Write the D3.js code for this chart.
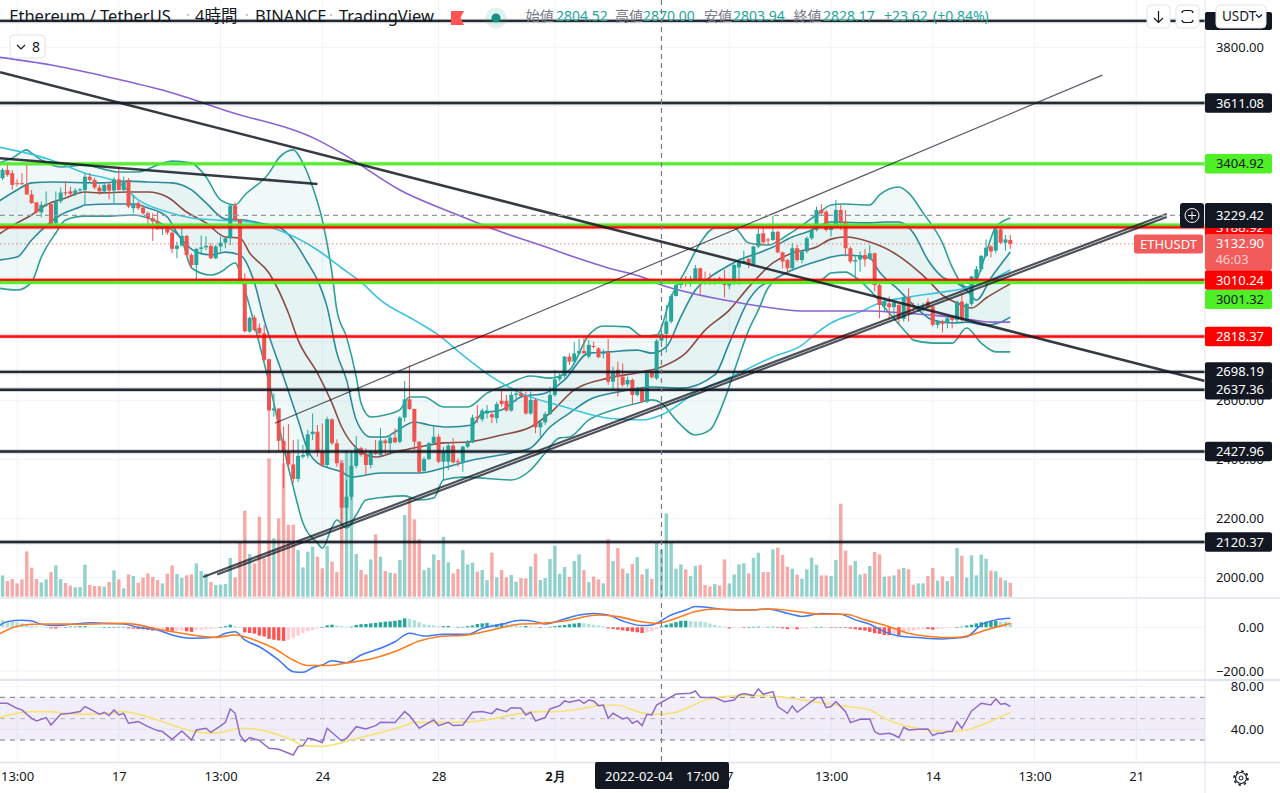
<!DOCTYPE html>
<html>
<head>
<meta charset="utf-8">
<script src="https://d3js.org/d3.v7.min.js"></script>
<style>
    html, body { margin: 0; padding: 0; background: #fff; overflow: hidden; }
    text { font-family: "Noto Sans", "Noto Sans CJK JP", sans-serif; fill: #131722; }
    .axis path, .axis line { display: none; }
    .axis text { font-size: 13px; font-family: "Noto Sans", sans-serif; fill: #131722; }
</style>
</head>
<body>
<script>
    // 4h candles, bar 0 is at the left edge of the picture
    var opens = [3339,3356,3384,3373,3339,3339,3333,3301,3274,3240,
        3263,3268,3203,3277,3308,3311,3303,3314,3316,3361,
        3350,3324,3311,3335,3314,3352,3316,3350,3254,3271,
        3256,3237,3220,3209,3183,3186,3171,3116,3127,3160,
        3095,3061,3116,3121,3126,3084,3124,3137,3152,3263,
        3214,2999,2835,2882,2848,2829,2741,2567,2574,2464,
        2427,2384,2335,2410,2414,2487,2495,2427,2382,2537,
        2456,2388,2237,2274,2379,2439,2416,2382,2425,2416,
        2465,2456,2475,2461,2543,2605,2572,2461,2362,2402,
        2456,2478,2393,2393,2448,2395,2393,2444,2459,2546,
        2537,2557,2554,2541,2600,2600,2567,2620,2625,2616,
        2557,2603,2510,2527,2555,2620,2673,2684,2750,2733,
        2761,2769,2750,2786,2778,2759,2765,2665,2705,2682,
        2656,2671,2620,2642,2597,2697,2676,2804,2827,2869,
        2956,2993,3008,2999,3013,3050,3008,3010,3006,3016,
        3010,2991,3001,3053,3069,3082,3065,3124,3169,3148,
        3146,3174,3104,3078,3050,3118,3078,3107,3152,3180,
        3248,3242,3180,3191,3248,3208,3118,3073,3080,3095,
        3084,3101,2993,2922,2931,2918,2925,2878,2952,2922,
        2914,2920,2937,2920,2858,2869,2865,2884,2875,2937,
        2880,2929,3010,3047,3092,3124,3110,3182,3137,3146]
    var closes = [3373,3384,3367,3333,3337,3336,3301,3271,3240,3265,
        3268,3197,3277,3307,3305,3303,3314,3318,3361,3350,
        3324,3311,3333,3314,3352,3316,3347,3260,3269,3254,
        3237,3220,3209,3183,3189,3171,3116,3127,3160,3095,
        3061,3116,3121,3126,3084,3124,3137,3152,3263,3214,
        2999,2836,2882,2840,2829,2739,2567,2574,2464,2427,
        2384,2335,2413,2416,2486,2495,2427,2382,2538,2456,
        2388,2237,2274,2379,2439,2416,2382,2425,2419,2465,
        2456,2475,2459,2543,2605,2572,2461,2359,2402,2456,
        2478,2393,2427,2448,2391,2391,2444,2459,2543,2541,
        2567,2567,2544,2589,2589,2567,2620,2625,2616,2557,
        2603,2510,2527,2555,2620,2673,2684,2750,2733,2761,
        2769,2761,2790,2784,2748,2764,2665,2699,2682,2654,
        2671,2620,2642,2597,2693,2680,2804,2827,2869,2956,
        2993,3010,2999,3014,3050,3008,2999,3006,3010,3007,
        2993,3001,3061,3069,3075,3067,3124,3167,3138,3144,
        3174,3104,3073,3050,3118,3078,3107,3152,3180,3248,
        3237,3180,3191,3248,3208,3118,3073,3078,3095,3080,
        3101,2993,2925,2937,2918,2933,2880,2952,2897,2918,
        2922,2925,2918,2858,2869,2861,2880,2875,2937,2875,
        2929,3022,3047,3092,3120,3107,3182,3137,3148,3133]
    var highs = [3378,3390,3409,3384,3352,3373,3407,3316,3274,3277,
        3311,3269,3311,3324,3344,3328,3322,3322,3373,3373,
        3358,3333,3339,3341,3359,3393,3361,3356,3299,3277,
        3265,3243,3237,3243,3197,3197,3175,3141,3192,3163,
        3101,3118,3161,3158,3135,3129,3158,3154,3268,3274,
        3217,3033,2886,2891,2863,2857,2743,2625,2574,2512,
        2521,2467,2469,2450,2501,2557,2518,2523,2546,2541,
        2469,2393,2331,2427,2480,2444,2439,2433,2467,2507,
        2470,2484,2507,2548,2667,2720,2574,2463,2410,2461,
        2518,2487,2444,2456,2473,2405,2448,2467,2552,2586,
        2574,2586,2563,2597,2637,2620,2631,2642,2642,2631,
        2631,2608,2535,2563,2648,2705,2693,2752,2761,2799,
        2810,2812,2807,2801,2782,2775,2810,2716,2733,2727,
        2682,2676,2648,2648,2699,2705,2809,2841,2925,2963,
        2999,3016,3024,3024,3061,3053,3039,3033,3016,3022,
        3044,3005,3065,3075,3110,3084,3126,3186,3186,3154,
        3228,3178,3107,3082,3135,3129,3112,3158,3182,3259,
        3268,3248,3197,3282,3265,3248,3124,3095,3107,3115,
        3129,3103,2997,2951,2954,2942,2929,2954,2982,2933,
        2931,2933,2948,2922,2875,2875,2886,2888,2940,2965,
        2933,3024,3058,3095,3148,3129,3189,3186,3163,3163]
    var lows = [3327,3350,3361,3316,3328,3333,3299,3269,3237,3223,
        3260,3189,3189,3271,3296,3294,3296,3310,3265,3344,
        3318,3299,3305,3284,3271,3314,3311,3254,3237,3248,
        3231,3186,3143,3180,3163,3163,3101,3084,3124,3090,
        3050,2999,3095,3112,3081,3081,3107,3118,3129,3209,
        2997,2832,2831,2835,2824,2733,2422,2546,2427,2303,
        2376,2320,2325,2404,2405,2467,2410,2376,2376,2450,
        2376,2184,2173,2263,2371,2410,2348,2371,2416,2410,
        2414,2416,2456,2456,2529,2569,2433,2354,2357,2399,
        2450,2388,2331,2365,2388,2376,2359,2439,2456,2524,
        2529,2540,2524,2524,2580,2563,2563,2597,2614,2552,
        2552,2490,2478,2518,2552,2614,2665,2676,2722,2727,
        2756,2761,2744,2778,2744,2744,2654,2637,2614,2648,
        2648,2586,2614,2592,2592,2676,2671,2795,2764,2863,
        2954,2982,2988,2988,3005,2959,2993,2993,2993,2999,
        2951,2979,2993,2993,3065,3050,3058,3118,3129,3129,
        3141,3101,3050,3033,3047,3073,3067,3101,3146,3175,
        3231,3175,3158,3186,3180,3090,3067,3005,3039,3056,
        3078,2971,2880,2903,2880,2886,2858,2869,2869,2903,
        2903,2903,2914,2852,2846,2832,2846,2846,2863,2869,
        2869,2922,3005,3039,3087,3087,3101,3133,3110,3116]
    var volumes = [170,64,47,53,40,52,136,87,53,43,
        52,74,94,53,41,33,28,29,96,35,
        32,32,30,44,79,52,25,67,62,42,
        57,70,59,50,40,69,94,68,56,64,
        67,100,77,69,44,35,36,38,116,58,
        165,258,128,100,240,115,415,175,235,400,
        215,216,140,88,135,150,120,85,152,105,
        74,410,440,430,128,80,67,112,187,120,
        77,72,70,110,245,295,232,172,80,87,
        127,110,180,103,70,83,140,97,102,75,
        80,50,132,58,80,58,65,45,56,55,
        91,129,50,56,113,153,69,89,59,107,
        127,80,44,60,52,40,172,107,146,84,
        70,98,119,67,84,54,162,142,250,164,
        84,97,82,62,92,95,35,31,38,34,
        112,40,67,97,100,70,117,132,74,74,
        142,147,125,90,84,66,54,82,117,96,
        64,64,62,110,279,138,94,107,66,69,
        92,134,127,60,61,64,82,86,82,36,
        40,40,62,86,48,61,47,61,146,123,
        57,124,64,126,114,78,76,57,49,42]
    var macdHist = [38,33,30,27,23,18,12,8,5,3,
        0,-5,-6,-3,0,3,3,5,5,3,
        2,0,0,0,2,2,2,-5,-6,-8,
        -9,-12,-15,-14,-11,-15,-21,-15,-14,-18,
        -21,-12,-11,-9,-8,-5,0,5,12,5,
        0,-23,-26,-29,-38,-42,-53,-57,-60,-62,
        -57,-48,-38,-27,-18,-12,-5,0,9,12,
        8,5,2,3,11,14,15,18,20,23,
        26,27,30,33,41,39,33,23,14,11,
        9,5,5,6,2,2,2,5,8,15,
        18,20,14,14,18,15,12,9,6,6,
        5,2,-3,-2,2,5,8,11,14,17,
        20,18,15,12,9,5,-5,-8,-11,-14,
        -17,-20,-23,-26,-23,-18,-9,5,12,18,
        24,30,30,29,27,26,23,17,11,6,
        3,-5,-3,-2,-2,0,2,3,2,2,
        3,-2,-5,-8,-6,-9,-6,-5,-2,0,
        2,0,-2,-2,0,-2,-6,-9,-12,-15,
        -21,-27,-30,-35,-36,-33,-36,-26,-20,-15,
        -11,-8,-8,-11,-8,-6,-3,-2,0,3,
        8,12,18,23,26,29,30,27,26,21]

    // indicator lines read at chosen bars: [bar, value]
    var bbOuterUpper = [[0,3407],[3,3424],[6,3452],[7,3441],[9,3418],[13,3394],[18,3401],[21,3390],[25,3377],[29,3377],[33,3401],[36,3414],[40,3407],[43,3360],[46,3282],[49,3265],[51,3299],[56,3373],[58,3424],[61,3452],[63,3407],[65,3326],[67,3214],[69,3034],[70,2908],[72,2817],[74,2681],[75,2592],[77,2545],[80,2552],[83,2569],[85,2613],[88,2613],[92,2579],[97,2579],[101,2626],[105,2654],[110,2684],[114,2677],[118,2704],[122,2823],[125,2854],[130,2851],[133,2820],[136,2823],[139,2952],[142,3044],[145,3136],[148,3187],[152,3187],[155,3136],[159,3129],[163,3163],[169,3231],[172,3265],[174,3268],[180,3265],[182,3299],[186,3326],[188,3306],[191,3238],[195,3136],[197,3054],[200,2986],[202,3010],[204,3102],[206,3190],[209,3221]]
    var bbOuterLower = [[0,2983],[4,2976],[7,3003],[9,3088],[12,3170],[14,3214],[18,3227],[23,3227],[28,3231],[31,3221],[35,3190],[38,3146],[40,3051],[44,3027],[46,3037],[49,3068],[51,2976],[55,2728],[57,2592],[59,2443],[61,2307],[63,2185],[66,2117],[67,2100],[69,2171],[70,2195],[72,2168],[74,2212],[76,2263],[80,2273],[84,2277],[87,2263],[90,2270],[92,2331],[96,2341],[106,2331],[110,2365],[113,2423],[116,2474],[118,2477],[122,2535],[127,2569],[132,2592],[135,2603],[137,2592],[140,2535],[144,2484],[147,2501],[150,2603],[153,2749],[155,2840],[157,2908],[159,2983],[160,3000],[167,3000],[170,3010],[172,3034],[175,3037],[177,3020],[180,2976],[184,2898],[188,2823],[189,2806],[193,2796],[197,2796],[200,2847],[203,2796],[206,2766],[209,2766]]
    var bbInnerUpper = [[0,3275],[4,3316],[7,3340],[11,3343],[21,3340],[27,3346],[31,3343],[36,3340],[40,3316],[43,3272],[47,3217],[51,3214],[54,3204],[58,3190],[61,3146],[64,3068],[66,3010],[68,2918],[70,2762],[72,2671],[74,2535],[77,2477],[80,2477],[82,2494],[86,2528],[89,2518],[93,2511],[98,2518],[100,2558],[104,2569],[108,2613],[113,2626],[117,2671],[122,2762],[126,2766],[132,2772],[135,2762],[138,2783],[141,2885],[144,2976],[147,3020],[150,3051],[153,3078],[157,3102],[160,3122],[164,3156],[167,3173],[172,3207],[180,3204],[183,3207],[186,3207],[189,3170],[192,3078],[195,3020],[198,3000],[200,2976],[202,2942],[205,3017],[209,3105]]
    var bbInnerLower = [[0,3078],[4,3088],[7,3146],[13,3231],[17,3258],[18,3265],[24,3268],[28,3268],[31,3255],[35,3224],[37,3170],[41,3105],[44,3095],[47,3105],[50,3095],[53,3000],[55,2874],[59,2681],[62,2535],[64,2433],[66,2389],[71,2358],[73,2341],[79,2355],[87,2355],[92,2372],[98,2399],[106,2423],[110,2440],[114,2511],[118,2558],[122,2603],[128,2630],[135,2647],[141,2643],[148,2688],[151,2796],[155,2942],[157,2983],[160,3010],[164,3044],[170,3078],[172,3088],[175,3095],[180,3085],[182,3037],[186,2976],[189,2925],[193,2874],[197,2864],[200,2867],[204,2857],[207,2867],[209,2884]]
    var bbBasis = [[0,3163],[4,3204],[7,3231],[10,3265],[14,3289],[18,3309],[21,3306],[27,3309],[31,3309],[35,3292],[39,3241],[43,3204],[47,3156],[50,3153],[52,3102],[56,3034],[60,2898],[62,2806],[66,2694],[69,2592],[71,2511],[74,2440],[78,2409],[82,2426],[87,2443],[92,2457],[97,2460],[104,2484],[110,2511],[114,2558],[119,2637],[126,2677],[133,2698],[137,2715],[142,2762],[146,2840],[151,2908],[155,2986],[160,3068],[164,3102],[169,3122],[172,3149],[175,3156],[180,3139],[185,3102],[189,3054],[192,3010],[195,2959],[198,2932],[201,2915],[204,2949],[209,2997]]
    var maFast = [[0,3462],[6,3441],[11,3418],[18,3373],[25,3340],[29,3282],[35,3241],[40,3221],[45,3214],[52,3207],[59,3173],[66,3112],[71,3051],[75,3003],[79,2942],[86,2874],[91,2823],[96,2755],[102,2681],[108,2626],[117,2579],[126,2541],[133,2535],[137,2552],[145,2637],[150,2671],[160,2749],[166,2789],[169,2830],[172,2864],[178,2902],[182,2932],[188,2952],[195,2969],[200,2983],[204,3003],[209,3044]]
    var maSlow = [[0,3767],[11,3740],[21,3706],[34,3655],[48,3581],[66,3486],[71,3441],[83,3316],[95,3231],[104,3173],[112,3129],[119,3088],[126,3051],[133,3020],[137,2993],[143,2966],[150,2942],[157,2922],[166,2905],[180,2905],[187,2898],[193,2891],[200,2878],[205,2867],[209,2867]]
    var macdLine = [[0,3],[2,26],[5,32],[7,29],[9,14],[12,8],[16,15],[19,21],[22,18],[26,15],[29,0],[33,-12],[36,-35],[40,-50],[45,-46],[47,-27],[49,-20],[51,-58],[54,-89],[58,-150],[61,-203],[63,-206],[65,-185],[67,-172],[69,-153],[72,-162],[75,-127],[79,-96],[82,-66],[85,-27],[88,-40],[92,-32],[97,-32],[100,-5],[104,14],[108,32],[111,26],[113,15],[117,38],[120,56],[123,63],[126,56],[129,29],[133,8],[135,11],[139,56],[142,79],[144,95],[147,90],[150,82],[155,79],[159,84],[163,64],[166,50],[170,63],[174,60],[177,34],[180,14],[183,-20],[186,-40],[190,-47],[195,-53],[197,-50],[200,-43],[203,11],[206,34],[209,41]]
    var macdSignal = [[0,-35],[3,-2],[7,14],[11,15],[17,14],[26,18],[29,11],[33,-9],[38,-27],[42,-41],[45,-46],[49,-35],[53,-58],[57,-96],[61,-150],[64,-175],[68,-175],[72,-163],[76,-150],[82,-111],[87,-63],[91,-43],[97,-35],[102,-12],[108,15],[112,18],[117,29],[124,56],[128,49],[132,29],[136,18],[140,41],[144,72],[148,84],[155,79],[160,84],[165,72],[170,60],[175,60],[179,34],[184,3],[188,-27],[193,-43],[197,-47],[201,-35],[204,-12],[209,18]]
    var rsiLine = [[0,64.4],[2,64.4],[4,59.7],[5,58.2],[7,50.3],[8,47.9],[10,51],[11,44.1],[13,54.1],[15,55],[17,56.6],[18,61.3],[19,59.1],[21,54.1],[22,56],[23,52.9],[24,58.2],[25,53.5],[26,55],[27,45.7],[29,47.2],[31,42.5],[33,38.8],[34,37.9],[36,30.7],[38,38.5],[40,30],[41,39.4],[43,41],[44,37.2],[46,43.2],[47,46.6],[48,59.1],[49,55],[50,34.7],[51,28.5],[52,32.2],[54,29.7],[56,22.2],[58,21.3],[61,16],[62,23.8],[63,24.7],[64,31.6],[65,31],[67,27.6],[68,41],[71,29.1],[72,31.6],[74,42.5],[76,40.4],[78,43.5],[79,46.6],[82,46.3],[84,56.6],[85,52.9],[87,41],[90,48.8],[91,43.5],[93,46.6],[94,43.5],[96,44.1],[98,56],[100,56.6],[102,54.7],[103,59.1],[105,56.6],[106,60.3],[108,59.7],[109,53.5],[110,56],[111,47.9],[113,51],[114,59.1],[116,62.2],[117,66.6],[118,65.3],[120,67.5],[121,64.4],[122,67.5],[123,66.6],[124,62.2],[125,62.8],[126,50.3],[127,55],[129,49.7],[130,51],[131,45.7],[132,47.9],[133,43.5],[134,54.1],[135,53.5],[136,62.8],[137,65.3],[140,73.1],[143,73.8],[144,75.9],[145,70],[148,69.7],[150,65.9],[152,67.5],[153,72.2],[154,73.5],[156,71.6],[157,77.8],[158,72.8],[160,75.3],[161,61.3],[163,55],[164,61.9],[165,56],[167,62.8],[169,69.7],[170,69.7],[171,60.3],[172,61.3],[173,65.9],[175,56.6],[176,46.3],[178,49.4],[180,49.7],[181,37.9],[182,35.4],[184,36.3],[185,34.7],[186,32.2],[187,41.9],[188,39.4],[190,40],[192,40.4],[193,34.1],[194,36.3],[195,36.3],[196,37.9],[197,37.9],[198,47.2],[199,41],[201,57.2],[203,64.4],[205,62.8],[206,68.5],[207,63.5],[208,64.1],[209,61.3]]
    var rsiMa = [[0,50.3],[4,55],[7,56.6],[11,56.6],[14,55],[21,54.1],[26,56.6],[30,52.9],[35,45.7],[40,38.5],[44,36.3],[47,37.9],[50,41],[54,39.7],[58,34.7],[61,29.4],[63,24.7],[67,24.1],[70,26.3],[73,30],[77,34.7],[81,39.4],[84,43.5],[86,46.6],[91,46.6],[98,47.2],[102,49.7],[108,55],[112,56.6],[115,56.6],[120,58.8],[124,62.2],[128,62.8],[131,58.2],[135,54.1],[139,55],[143,61.3],[146,67.5],[150,70.6],[156,71.6],[161,70.6],[167,66.9],[174,62.2],[180,58.2],[183,50.3],[188,42.5],[192,39.4],[196,37.9],[200,39.4],[204,45.7],[209,55.7]]

    // drawn lines
    var hLevels = [3890, 3611.08, 3404.92, 3196.52, 3188.92, 3010.24, 3001.32, 2818.37, 2698.19, 2637.36, 2427.96, 2120.37]
    var hKinds = ["dark", "dark", "green", "green", "red", "red", "green", "red", "dark", "dark", "dark", "dark"]
    var trendMain = [[0.5,3716],[249.2,2667]]
    var trendShort = [[0,3424],[66,3336]]
    var trendThin = [[57.2,2524],[228,3706]]
    var channelA = [[42.4,2002],[241.3,3234]]
    var channelB = [[45.3,2010],[241.3,3224]]

    var priceTicks = [3800, 2600, 2400, 2200, 2000]
    var macdTicks = [0, -200]
    var rsiTicks = [80, 40]
    var gridPrices = [3800, 3600, 3400, 3200, 3000, 2800, 2600, 2400, 2200, 2000]
    var timeBars = [4, 25, 46, 67, 91, 115, 151, 172, 193, 214, 235]
    var timeLabels = ["13:00", "17", "13:00", "24", "28", "2月", "7", "13:00", "14", "13:00", "21"]

    var tagPrices = ["3611.08", "3404.92", "3196.52", "3188.92", "3010.24", "3001.32", "2818.37", "2698.19", "2637.36", "2427.96", "2120.37"]
    var tagValues = [3611.08, 3404.92, 3209, 3188.92, 3010.24, 3001.32, 2818.37, 2698.19, 2637.36, 2427.96, 2120.37]
    var tagKinds = ["dark", "green", "green", "red", "red", "green", "red", "dark", "dark", "dark", "dark"]
    var tagNudge = [0, 0, 0, 0, 0, 17, 0, 0, 0, 0, 0]

    var upCol = "#26a69a", downCol = "#ef5350"
    var kindCol = {dark: "#131722", green: "#4eef24", red: "#ff0000"}
    var lastBar = opens.length - 1

    var svg = d3.select("body").append("svg").attr("width", 1280).attr("height", 793).style("display", "block")

    var x = d3.scaleLinear().domain([0, lastBar]).range([-2.3, 1010.3])
    var y = d3.scaleLinear().domain([2000, 3800]).range([577.5, 47.4])
    var yVol = d3.scaleLinear().domain([0, 300]).range([596.7, 496.7])
    var yMacd = d3.scaleLinear().domain([-200, 0]).range([671, 627.3])
    var yRsi = d3.scaleLinear().domain([30, 70]).range([740, 697.3])

    var chart = svg.append("g")

    // grid
    var grid = chart.append("g").attr("stroke", "#f0f3fa").attr("stroke-width", 1)
    timeBars.forEach((b) => {
        grid.append("line").attr("x1", x(b)).attr("x2", x(b)).attr("y1", 0).attr("y2", 762)
    })
    gridPrices.forEach((p) => {
        grid.append("line").attr("x1", 0).attr("x2", 1205).attr("y1", y(p)).attr("y2", y(p))
    })
    macdTicks.forEach((p) => {
        grid.append("line").attr("x1", 0).attr("x2", 1205).attr("y1", yMacd(p)).attr("y2", yMacd(p))
    })
    rsiTicks.forEach((p) => {
        grid.append("line").attr("x1", 0).attr("x2", 1205).attr("y1", yRsi(p)).attr("y2", yRsi(p))
    })

    // volume
    chart.append("g").selectAll("rect").data(volumes).enter().append("rect")
        .attr("x", (d, i) => x(i) - 1.7).attr("width", 3.4)
        .attr("y", (d) => yVol(d)).attr("height", (d) => yVol(0) - yVol(d))
        .attr("fill", (d, i) => closes[i] >= opens[i] ? upCol : downCol).attr("opacity", 0.5)

    // bollinger bands
    var bandLine = (sc) => d3.line().x((d) => x(d[0])).y((d) => sc(d[1])).curve(d3.curveMonotoneX)
    var priceLine = bandLine(y)
    function bandArea(top, bottom) {
        return priceLine(top) + "L" + priceLine(bottom.slice().reverse()).slice(1) + "Z"
    }
    chart.append("path").attr("d", bandArea(bbOuterUpper, bbOuterLower)).attr("fill", upCol).attr("opacity", 0.07)
    chart.append("path").attr("d", bandArea(bbInnerUpper, bbInnerLower)).attr("fill", upCol).attr("opacity", 0.05)

    var lineCols = [[bbOuterUpper, "#2f9f98"], [bbOuterLower, "#2f9f98"], [bbInnerUpper, "#2b8a9c"], [bbInnerLower, "#2b8a9c"],
        [bbBasis, "#8a4b45"], [maFast, "#3cc3dd"], [maSlow, "#8a63d2"]]
    lineCols.forEach((l) => {
        chart.append("path").attr("d", priceLine(l[0])).attr("fill", "none").attr("stroke", l[1]).attr("stroke-width", 1.6)
    })

    // candles
    var candles = chart.append("g")
    opens.forEach((o, i) => {
        var col = closes[i] >= o ? upCol : downCol
        candles.append("line").attr("x1", x(i)).attr("x2", x(i)).attr("y1", y(highs[i])).attr("y2", y(lows[i]))
            .attr("stroke", col).attr("stroke-width", 1)
        candles.append("rect").attr("x", x(i) - 2).attr("width", 4)
            .attr("y", y(Math.max(o, closes[i]))).attr("height", Math.max(1, Math.abs(y(o) - y(closes[i]))))
            .attr("fill", col)
    })

    // last price and crosshair
    chart.append("line").attr("x1", 0).attr("x2", 1205).attr("y1", y(3132.9)).attr("y2", y(3132.9))
        .attr("stroke", "#ef5350").attr("stroke-width", 1).attr("stroke-dasharray", "1.5 2.5").attr("opacity", 0.7)

    // macd pane
    var macd = chart.append("g")
    macd.selectAll("rect").data(macdHist).enter().append("rect")
        .attr("x", (d, i) => x(i) - 1.7).attr("width", 3.4)
        .attr("y", (d) => Math.min(yMacd(d), yMacd(0))).attr("height", (d) => Math.max(0.6, Math.abs(yMacd(d) - yMacd(0))))
        .attr("fill", (d, i) => {
            var prev = i > 0 ? macdHist[i - 1] : d
            if (d >= 0) return d >= prev ? "#26a69a" : "#b2dfdb"
            return d <= prev ? "#ff5252" : "#ffcdd2"
        })
    var macdPath = bandLine(yMacd)
    macd.append("path").attr("d", macdPath(macdLine)).attr("fill", "none").attr("stroke", "#3f78f5").attr("stroke-width", 1.5)
    macd.append("path").attr("d", macdPath(macdSignal)).attr("fill", "none").attr("stroke", "#ff7b1f").attr("stroke-width", 1.6)

    // rsi pane
    var rsi = chart.append("g")
    rsi.append("rect").attr("x", 0).attr("width", 1205).attr("y", yRsi(70)).attr("height", yRsi(30) - yRsi(70))
        .attr("fill", "#7e57c2").attr("opacity", 0.1)
    var rsiLevels = [70, 50, 30]
    rsiLevels.forEach((v, i) => {
        rsi.append("line").attr("x1", 0).attr("x2", 1205).attr("y1", yRsi(v)).attr("y2", yRsi(v))
            .attr("stroke", "#787b86").attr("stroke-dasharray", "5 5").attr("opacity", i == 1 ? 0.5 : 1)
    })
    var rsiPath = d3.line().x((d) => x(d[0])).y((d) => yRsi(d[1]))
    rsi.append("path").attr("d", bandLine(yRsi)(rsiMa)).attr("fill", "none").attr("stroke", "#f7e27a").attr("stroke-width", 1.7)
    rsi.append("path").attr("d", rsiPath(rsiLine)).attr("fill", "none").attr("stroke", "#8f6bc9").attr("stroke-width", 1.5)

    // horizontal levels, the pale wider stroke is the soft edge they have in the picture
    hLevels.forEach((p, i) => {
        var k = hKinds[i]
        chart.append("line").attr("x1", 0).attr("x2", 1205).attr("y1", y(p)).attr("y2", y(p))
            .attr("stroke", kindCol[k]).attr("stroke-width", 4.5).attr("opacity", 0.18)
        chart.append("line").attr("x1", 0).attr("x2", 1205).attr("y1", y(p)).attr("y2", y(p))
            .attr("stroke", kindCol[k]).attr("stroke-width", k == "green" ? 3 : 2.4).attr("opacity", k == "dark" ? 0.9 : 0.95)
    })

    // trend lines
    var tl = d3.line().x((d) => x(d[0])).y((d) => y(d[1]))
    chart.append("path").attr("d", tl(trendMain)).attr("stroke", "#131722").attr("stroke-width", 2.6).attr("opacity", 0.85).attr("fill", "none")
    chart.append("path").attr("d", tl(trendShort)).attr("stroke", "#131722").attr("stroke-width", 2.6).attr("opacity", 0.85).attr("fill", "none")
    chart.append("path").attr("d", tl(trendThin)).attr("stroke", "#131722").attr("stroke-width", 1.2).attr("opacity", 0.7).attr("fill", "none")
    chart.append("path").attr("d", tl(channelA)).attr("stroke", "#131722").attr("stroke-width", 2.2).attr("opacity", 0.75).attr("fill", "none")
    chart.append("path").attr("d", tl(channelB)).attr("stroke", "#131722").attr("stroke-width", 2.2).attr("opacity", 0.75).attr("fill", "none")

    // crosshair
    chart.append("line").attr("x1", x(137)).attr("x2", x(137)).attr("y1", 0).attr("y2", 762)
        .attr("stroke", "#787b86").attr("stroke-width", 1.2).attr("stroke-dasharray", "5 4")
    chart.append("line").attr("x1", 0).attr("x2", 1205).attr("y1", y(3229.42)).attr("y2", y(3229.42))
        .attr("stroke", "#9598a1").attr("stroke-width", 1.2).attr("stroke-dasharray", "5 4")

    // panes and axes frame
    var frame = svg.append("g")
    frame.append("rect").attr("x", 1205).attr("y", 0).attr("width", 75).attr("height", 793).attr("fill", "#fff")
    frame.append("rect").attr("x", 0).attr("y", 763).attr("width", 1280).attr("height", 30).attr("fill", "#fff")
    frame.append("line").attr("x1", 1205).attr("x2", 1205).attr("y1", 0).attr("y2", 793).attr("stroke", "#e0e3eb")
    var dividers = [[598, 1.5], [680, 2], [762.5, 1.5]]
    dividers.forEach((d) => {
        frame.append("line").attr("x1", 0).attr("x2", 1280).attr("y1", d[0]).attr("y2", d[0]).attr("stroke", "#e0e3eb").attr("stroke-width", d[1])
    })

    function rightAxis(sc, ticks) {
        var g = svg.append("g").attr("class", "axis").attr("transform", "translate(1264,0)")
            .call(d3.axisLeft(sc).tickValues(ticks).tickFormat(d3.format(".2f")).tickSize(0).tickPadding(0))
        return g
    }
    rightAxis(y, priceTicks)
    rightAxis(yMacd, macdTicks)
    rightAxis(yRsi, rsiTicks)

    var timeAxis = svg.append("g").attr("class", "axis").attr("transform", "translate(0,770)")
        .call(d3.axisBottom(x).tickValues(timeBars).tickFormat((d, i) => timeLabels[i]).tickSize(0).tickPadding(2))
    timeAxis.selectAll("text").style("font-weight", (d, i) => timeLabels[i] == "2月" ? 700 : 400)

    // price tags
    function tag(cy, label, bg, fg, h) {
        svg.append("rect").attr("x", 1205).attr("y", cy - h / 2).attr("width", 67).attr("height", h).attr("rx", 2).attr("fill", bg)
        svg.append("text").attr("x", 1240).attr("y", cy + 4.6).attr("text-anchor", "middle").style("font-size", "13px").style("fill", fg).text(label)
    }
    tagValues.forEach((p, i) => {
        var k = tagKinds[i]
        tag(y(p) + tagNudge[i], tagPrices[i], kindCol[k], k == "green" ? "#131722" : "#fff", k == "green" && i == 5 ? 19 : 19.5)
    })

    svg.append("rect").attr("x", 1205).attr("y", 234).attr("width", 67).attr("height", 36).attr("rx", 2).attr("fill", "#f15b59")
    svg.append("text").attr("x", 1240).attr("y", 248).attr("text-anchor", "middle").style("font-size", "13px").style("fill", "#fff").text("3132.90")
    svg.append("text").attr("x", 1232).attr("y", 264).attr("text-anchor", "middle").style("font-size", "13px").style("fill", "#ffd0d0").text("46:03")
    svg.append("rect").attr("x", 1134).attr("y", 234.5).attr("width", 69).attr("height", 19).attr("rx", 2).attr("fill", "#f15b59")
    svg.append("text").attr("x", 1168.5).attr("y", 249).attr("text-anchor", "middle").style("font-size", "13px").style("fill", "#fff").text("ETHUSDT")

    // crosshair labels
    tag(215.5, "3229.42", "#131722", "#fff", 25)
    svg.append("rect").attr("x", 1180).attr("y", 203).attr("width", 24).attr("height", 25).attr("rx", 3).attr("fill", "#131722")
    svg.append("circle").attr("cx", 1192).attr("cy", 215.5).attr("r", 7).attr("fill", "none").attr("stroke", "#fff")
    svg.append("path").attr("d", "M1188 215.5H1196M1192 211.5V219.5").attr("stroke", "#fff")

    svg.append("rect").attr("x", 595).attr("y", 762).attr("width", 134).attr("height", 27).attr("rx", 2).attr("fill", "#131722")
    svg.append("text").attr("x", 605).attr("y", 781).style("font-size", "13px").style("fill", "#fff").text("2022-02-04")
    svg.append("text").attr("x", 686).attr("y", 781).style("font-size", "13px").style("fill", "#fff").text("17:00")

    // header
    var titleBits = [[9.3, "Ethereum / TetherUS"], [195, "4時間"], [255, "BINANCE"], [339, "TradingView"]]
    titleBits.forEach((t) => {
        svg.append("text").attr("x", t[0]).attr("y", 22).style("font-size", "16.5px").style("fill", "#131722").text(t[1])
    })
    var titleDots = [188, 247, 331]
    titleDots.forEach((d) => {
        svg.append("circle").attr("cx", d).attr("cy", 15).attr("r", 1).attr("fill", "#b2b5be")
    })
    svg.append("path").attr("d", "M451 11H464L460.5 17.5L464 25H451Z").attr("fill", "#ff5252")
    svg.append("circle").attr("cx", 496).attr("cy", 18).attr("r", 10.5).attr("fill", "#26a69a").attr("opacity", 0.15)
    svg.append("circle").attr("cx", 496).attr("cy", 18).attr("r", 4.5).attr("fill", "#14917f")

    var ohlcNames = [[525.7, "始値"], [615, "高値"], [704, "安値"], [793.6, "終値"]]
    var ohlcVals = [[556, "2804.52"], [643, "2870.00"], [733, "2803.94"], [823, "2828.17"], [884, "+23.62"], [933, "(+0.84%)"]]
    ohlcNames.forEach((t) => {
        svg.append("text").attr("x", t[0]).attr("y", 21).style("font-size", "14px").style("fill", "#787b86").text(t[1])
    })
    ohlcVals.forEach((t) => {
        svg.append("text").attr("x", t[0]).attr("y", 21).style("font-size", "14px").style("fill", "#26a69a").text(t[1])
    })

    // buttons
    function button(bx, by, w, h) {
        return svg.append("rect").attr("x", bx).attr("y", by).attr("width", w).attr("height", h).attr("rx", 4)
            .attr("fill", "#fff").attr("stroke", "#e0e3eb")
    }
    button(10, 35, 35, 23)
    svg.append("path").attr("d", "M17 45L21 49L25 45").attr("fill", "none").attr("stroke", "#131722").attr("stroke-width", 1.2)
    svg.append("text").attr("x", 32).attr("y", 52).style("font-size", "14px").text("8")

    button(1147, 5, 23, 23)
    svg.append("path").attr("d", "M1158.5 11V22M1154 18L1158.5 22.5L1163 18").attr("fill", "none").attr("stroke", "#131722").attr("stroke-width", 1.2)
    button(1176, 5, 23, 23)
    svg.append("path").attr("d", "M1182 13Q1182 10.5 1185 10.5H1190Q1193 10.5 1193 13M1182 20Q1182 22.5 1185 22.5H1190Q1193 22.5 1193 20").attr("fill", "none").attr("stroke", "#131722").attr("stroke-width", 1.2)

    svg.append("rect").attr("x", 1205).attr("y", 12).attr("width", 67).attr("height", 18).attr("rx", 2).attr("fill", "#131722")
    button(1216, 5, 50, 23)
    svg.append("text").attr("x", 1222).attr("y", 21).style("font-size", "13.5px").text("USDT")
    svg.append("path").attr("d", "M1256 14.5L1259 17.5L1262 14.5").attr("fill", "none").attr("stroke", "#131722").attr("stroke-width", 1.2)

    // gear
    svg.append("circle").attr("cx", 1241).attr("cy", 778).attr("r", 5.5).attr("fill", "none").attr("stroke", "#131722").attr("stroke-width", 1.2)
    svg.append("circle").attr("cx", 1241).attr("cy", 778).attr("r", 7).attr("fill", "none").attr("stroke", "#131722").attr("stroke-width", 1.6).attr("stroke-dasharray", "2.5 3")
    svg.append("circle").attr("cx", 1241).attr("cy", 778).attr("r", 2).attr("fill", "none").attr("stroke", "#131722")
</script>
</body>
</html>
